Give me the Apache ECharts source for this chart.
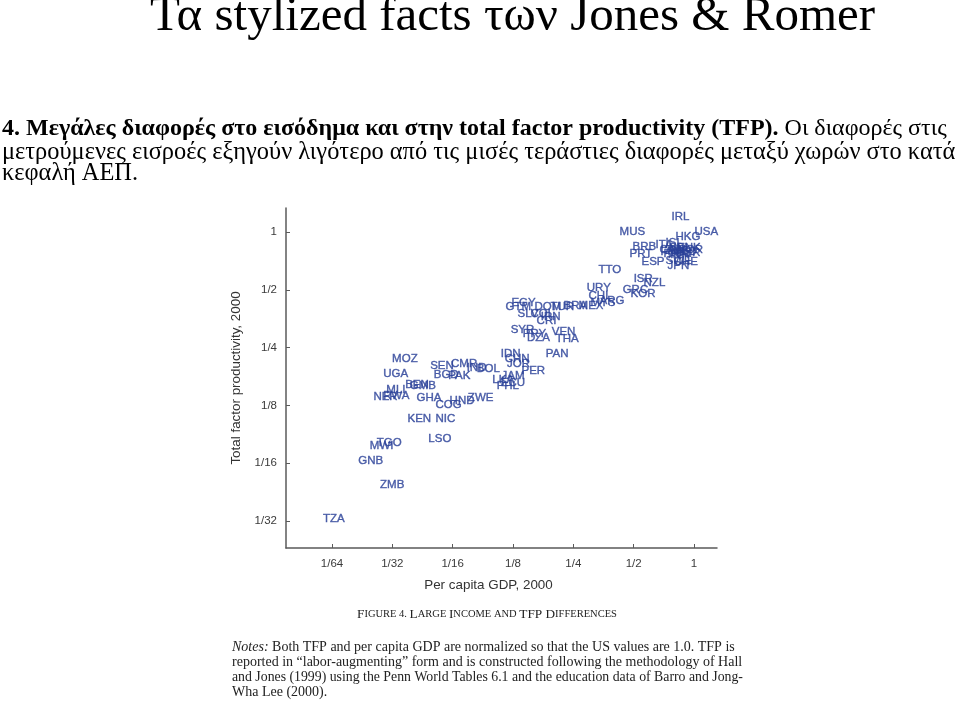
<!DOCTYPE html>
<html>
<head>
<meta charset="utf-8">
<script src="https://cdn.jsdelivr.net/npm/echarts@6/dist/echarts.min.js"></script>
<style>
html,body{margin:0;padding:0;background:#fff;}
#c{width:960px;height:703px;}
</style>
</head>
<body>
<div id="c"></div>
<script>
// Countries (ISO codes), per capita GDP 2000 and TFP 2000, both relative to US = 1
var countries = ['IRL','USA','HKG','MUS','BRB','PRT','ITA','ISL','CAN','AUS','BEL','DNK','NLD','FRA','AUT','FIN','GBR','NOR','ESP','SWE','CHE','JPN',
  'TTO','ISR','NZL','GRC','KOR','URY','CHL','MYS','ARG','BRA','MEX','TUR','DOM','EGY','GTM','SLV','COL','IRN','CRI',
  'SYR','PRY','DZA','VEN','THA','PAN','IDN','CHN','JOR','PER','JAM','LKA','ECU','PHL',
  'MOZ','UGA','SEN','CMR','BGD','PAK','IND','BOL','MLI','NER','RWA','BEN','GMB','GHA','COG','HND','ZWE','KEN','NIC','LSO','MWI','TGO','GNB','ZMB','TZA'];
var gdp = [0.768,1.000,0.804,0.423,0.491,0.474,0.639,0.717,0.669,0.717,0.750,0.813,0.786,0.701,0.742,0.677,0.804,0.823,0.544,0.717,0.786,0.734,
  0.332,0.497,0.557,0.438,0.480,0.290,0.296,0.303,0.336,0.222,0.264,0.191,0.159,0.122,0.114,0.131,0.152,0.171,0.163,
  0.121,0.139,0.146,0.194,0.203,0.181,0.108,0.113,0.116,0.137,0.109,0.098,0.108,0.103,
  0.031,0.028,0.048,0.061,0.050,0.059,0.073,0.082,0.029,0.025,0.028,0.036,0.038,0.041,0.051,0.060,0.074,0.037,0.051,0.047,0.024,0.026,0.021,0.027,0.014];
var tfp = [1.197,1.000,0.942,1.000,0.835,0.768,0.856,0.877,0.806,0.796,0.825,0.825,0.787,0.768,0.759,0.787,0.777,0.806,0.698,0.706,0.698,0.665,
  0.634,0.569,0.543,0.499,0.475,0.511,0.464,0.427,0.437,0.412,0.412,0.407,0.407,0.427,0.407,0.374,0.374,0.361,0.344,
  0.309,0.294,0.281,0.302,0.277,0.231,0.231,0.218,0.205,0.189,0.178,0.170,0.164,0.158,
  0.218,0.182,0.200,0.205,0.180,0.178,0.196,0.194,0.150,0.138,0.140,0.160,0.158,0.137,0.126,0.132,0.137,0.107,0.107,0.084,0.077,0.080,0.064,0.048,0.032];
var xTickLabels = ['1/64','1/32','1/16','1/8','1/4','1/2','1'];
var yTickLabels = ['1/32','1/16','1/8','1/4','1/2','1'];

function frac(s){ var p = s.split('/'); return p.length > 1 ? Number(p[0]) / Number(p[1]) : Number(p[0]); }
var xTickVals = xTickLabels.map(function(s){ return Math.log2(frac(s)); });
var yTickVals = yTickLabels.map(function(s){ return Math.log2(frac(s)); });
function labelFor(vals, labels){
  return function(v){
    for (var i=0;i<vals.length;i++){ if (Math.abs(vals[i]-v)<1e-6) return labels[i]; }
    return '';
  };
}
var data = countries.map(function(c,i){ return {name:c, value:[Math.log2(gdp[i]), Math.log2(tfp[i])]}; });

var chart = echarts.init(document.getElementById('c'), null, {renderer:'canvas'});
var axisCol = '#5a5a5a';
var sans = 'Liberation Sans, Arial, Helvetica, sans-serif';
chart.setOption({
  backgroundColor:'#fff',
  animation:false,
  grid:{left:286, right:243, top:208, bottom:155},
  xAxis:{
    type:'value', min:-6.762, max:0.381,
    splitLine:{show:false},
    axisLine:{show:true, onZero:false, lineStyle:{color:axisCol, width:1.5}},
    axisTick:{show:true, inside:true, length:4, customValues:xTickVals, lineStyle:{color:axisCol}},
    axisLabel:{customValues:xTickVals, formatter:labelFor(xTickVals,xTickLabels), color:'#3a3a3a', fontSize:11.5, fontFamily:sans, margin:10},
    name:'Per capita GDP, 2000', nameLocation:'middle', nameGap:31,
    nameTextStyle:{color:'#333', fontSize:13.4, fontFamily:sans, padding:[0,26,0,0]}
  },
  yAxis:{
    type:'value', min:-5.467, max:0.415,
    splitLine:{show:false},
    axisLine:{show:true, onZero:false, lineStyle:{color:axisCol, width:1.5}},
    axisTick:{show:true, inside:true, length:4, customValues:yTickVals, lineStyle:{color:axisCol}},
    axisLabel:{customValues:yTickVals, formatter:labelFor(yTickVals,yTickLabels), color:'#3a3a3a', fontSize:11.5, fontFamily:sans, margin:9},
    name:'Total factor productivity, 2000', nameLocation:'middle', nameGap:43, nameRotate:90,
    nameTextStyle:{color:'#333', fontSize:13.4, fontFamily:sans}
  },
  series:[{
    type:'scatter',
    data:data,
    symbol:'circle',
    symbolSize:1,
    itemStyle:{color:'rgba(0,0,0,0)'},
    label:{show:true, position:'right', distance:0, formatter:'{b}', color:'#2a4199', fontSize:11.5, fontFamily:sans,
      textBorderColor:'#2a4199', textBorderWidth:0.4},
    labelLayout:{hideOverlap:false}
  }],
  graphic:[
    {type:'text', left:150, top:-7, style:{text:'Τα stylized facts των Jones & Romer', font:'49px Liberation Serif', fill:'#000'}},
    {type:'text', left:2, top:117, style:{
      text:'{b|4. Μεγάλες διαφορές στο εισόδημα και στην total factor productivity (TFP).}{r| Οι διαφορές στις}',
      rich:{b:{font:'bold 24px Liberation Serif', fill:'#000'}, r:{font:'24px Liberation Serif', fill:'#000'}}}},
    {type:'text', left:2, top:141, style:{text:'μετρούμενες εισροές εξηγούν λιγότερο από τις μισές τεράστιες διαφορές μεταξύ χωρών στο κατά', font:'24.4px Liberation Serif', fill:'#000'}},
    {type:'text', left:2, top:162, style:{text:'κεφαλή ΑΕΠ.', font:'24.4px Liberation Serif', fill:'#000'}},
    {type:'text', left:357, top:608, style:{
      text:'{a|F}{s|IGURE 4. }{a|L}{s|ARGE }{a|I}{s|NCOME AND }{a|TFP D}{s|IFFERENCES}',
      rich:{a:{font:'13.3px Liberation Serif', fill:'#222'}, s:{font:'10.5px Liberation Serif', fill:'#222'}}}},
    {type:'text', left:232, top:640, style:{
      text:'{i|Notes:}{r| Both TFP and per capita GDP are normalized so that the US values are 1.0. TFP is}',
      rich:{i:{font:'italic 14px Liberation Serif', fill:'#222'}, r:{font:'14px Liberation Serif', fill:'#222'}}}},
    {type:'text', left:232, top:655, style:{text:'reported in \u201clabor-augmenting\u201d form and is constructed following the methodology of Hall', font:'14px Liberation Serif', fill:'#222'}},
    {type:'text', left:232, top:670, style:{text:'and Jones (1999) using the Penn World Tables 6.1 and the education data of Barro and Jong-', font:'13.8px Liberation Serif', fill:'#222'}},
    {type:'text', left:232, top:685, style:{text:'Wha Lee (2000).', font:'14px Liberation Serif', fill:'#222'}}
  ]
});
</script>
</body>
</html>
